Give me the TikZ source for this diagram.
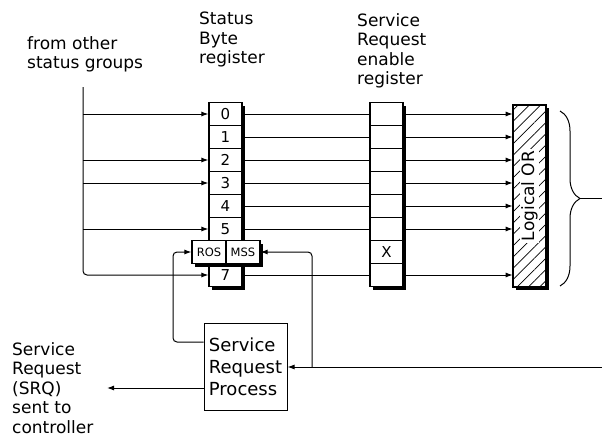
\documentclass[tikz,border=0pt]{standalone}
\usepackage{fontspec}
\setmainfont{DejaVu Sans}
\usetikzlibrary{arrows.meta,positioning,shadows,patterns.meta,decorations.pathreplacing}

\tikzset{
  conn/.style={line width=1pt},
  bitcell/.style={draw, line width=1.2pt, fill=white, minimum width=33pt, minimum height=23pt,
    inner sep=0pt, font=\fontsize{15}{15}\selectfont,
    drop shadow={shadow xshift=3pt, shadow yshift=-3pt, opacity=1, fill=black}},
  flagcell/.style={bitcell, minimum width=34pt, font=\fontsize{11.5}{11.5}\selectfont},
  heading/.style={align=left, inner sep=0pt, anchor=north west, font=\fontsize{17}{19.5}\selectfont},
  orbox/.style={draw, line width=1.2pt, minimum width=33pt, minimum height=182pt,
    drop shadow={shadow xshift=3pt, shadow yshift=-3pt, opacity=1, fill=black},
    preaction={fill=white}, pattern={Lines[angle=45,distance=8pt,line width=0.7pt]}},
  procbox/.style={draw, line width=1pt, minimum width=83pt, minimum height=87pt,
    align=left, inner sep=0pt, font=\fontsize{18}{22}\selectfont},
}

\begin{document}
\begin{tikzpicture}[x=1pt,y=-1pt,>={Latex[length=7pt,width=5pt]}]
\useasboundingbox (0,0) rectangle (602,442);

% headings
\node[heading] (grptxt) at (27,36) {from other\\status groups};
\node[heading] (sbtxt) at (199,12) {Status\\Byte\\register};
\node[heading] (sretxt) at (357,13) {Service\\Request\\enable\\register};

% status byte register
\foreach \i in {0,...,5,7}
  \node[bitcell] (sb\i) at (225.5,{114+23*\i}) {\i};
\node[flagcell] (ros) at (209,252) {ROS};
\node[flagcell] (mss) at (243,252) {MSS};

% service request enable register
\foreach \i in {0,...,7}
  \node[bitcell] (sre\i) at (386.5,{114+23*\i}) {};
\node[font=\fontsize{15}{15}\selectfont] (xmark) at (sre6) {X};

% logical OR
\node[orbox] (lor) at (529.5,196) {};
\node[rotate=90, fill=white, inner sep=1.5pt, font=\fontsize{17}{17}\selectfont] (lortxt) at (lor) {Logical OR};

% inputs from other status groups
\coordinate (grp) at (83,87);
\draw[conn,->,rounded corners=4pt] (grp) |- (sb7.west);
\foreach \i in {0,2,3,5}
  \draw[conn,->] (grp |- sb\i.west) -- (sb\i.west);

% register to register
\foreach \i in {0,...,5,7} {
  \draw[conn] (sb\i.east) -- (sre\i.west);
  \draw[conn,->] (sre\i.east) -- (lor.west |- sre\i.east);
}

% summary output
\draw[conn, decorate, decoration={brace,amplitude=20pt}] (560,111) -- (560,286);
\coordinate (brtip) at (580,198.5);
\draw[conn] (brtip) -- (602,198.5);

% service request process
\node[procbox] (srp) at (245.5,366.5) {Service\\Request\\Process};
\coordinate (srqin) at (602,367);
\coordinate (tap) at (312,367);
\coordinate (rosbend) at (173,342);
\coordinate (srqout) at (107,388);
\draw[conn,->] (srqin) -- (srp.east |- srqin);
\draw[conn,->,rounded corners=4pt] (tap) |- (mss.east);
\draw[conn,->,rounded corners=4pt] (srp.west |- rosbend) -- (rosbend) |- (ros.west);
\draw[conn,->] (srp.west |- srqout) -- (srqout);
\node[heading] (srqtxt) at (12,342) {Service\\Request\\(SRQ)\\sent to\\controller};
\end{tikzpicture}
\end{document}
